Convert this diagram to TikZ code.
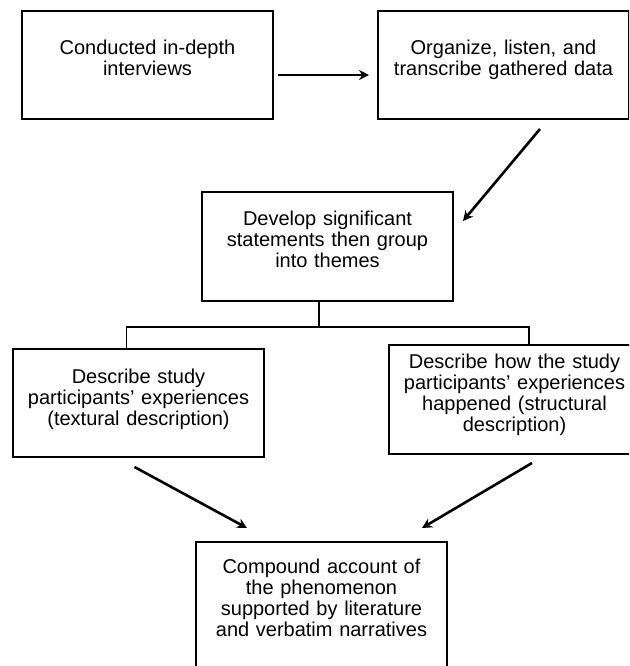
\documentclass[tikz,border=0pt]{standalone}
\usepackage{fontspec}
\setmainfont{Liberation Sans}
\usetikzlibrary{arrows.meta}

\begin{document}
\begin{tikzpicture}[x=0.5pt,y=-0.5pt,line width=0.6pt,>={Stealth[length=5pt,width=5pt]},box/.style 2 args={draw,anchor=north west,align=center,text width=125.5pt,inner sep=0pt,outer sep=0pt,text height=#1,text depth=#2,font=\fontsize{10}{10.5}\selectfont},arr/.style={->,line width=1.3pt}]
\useasboundingbox (0,0) rectangle (629,666);
\clip (0,0) rectangle (629,666);
\node[box={21.5pt}{32.5pt}] (s1) at (22,11) {Conducted in-depth\\interviews};
\node[box={21.5pt}{32.5pt}] (s2) at (378,11) {Organize, listen, and\\transcribe gathered data};
\node[box={16.5pt}{38pt}] (s3) at (202,192) {Develop significant\\statements then group\\into themes};
\node[box={17pt}{37pt}] (s4) at (13,349) {Describe study\\participants’ experiences\\(textural description)};
\node[box={11.5pt}{43pt}] (s5) at (389,345) {Describe how the study\\participants’ experiences\\happened (structural\\description)};
\node[box={15.5pt}{54.5pt}] (s6) at (196,542) {Compound account of\\the phenomenon\\supported by literature\\and verbatim narratives};
\draw[arr] ([xshift=2.5pt,yshift=-5pt]s1.east) -- ([xshift=-4.5pt,yshift=-5pt]s2.west);
\draw[arr] ([xshift=18.25pt,yshift=-5pt]s2.south) -- ([xshift=5pt,yshift=12.75pt]s3.east);
\draw ([xshift=-4.25pt]s3.south) -- ++(0,-13pt);
\draw ([xshift=-6pt]s4.north) -- ++(0,11pt) -| ([xshift=7.25pt]s5.north);
\draw[arr] ([xshift=-2pt,yshift=-5pt]s4.south) -- ([xshift=-37.25pt,yshift=7pt]s6.north);
\draw[arr] ([xshift=8.75pt,yshift=-4.5pt]s5.south) -- ([xshift=50.25pt,yshift=7pt]s6.north);
\end{tikzpicture}
\end{document}
